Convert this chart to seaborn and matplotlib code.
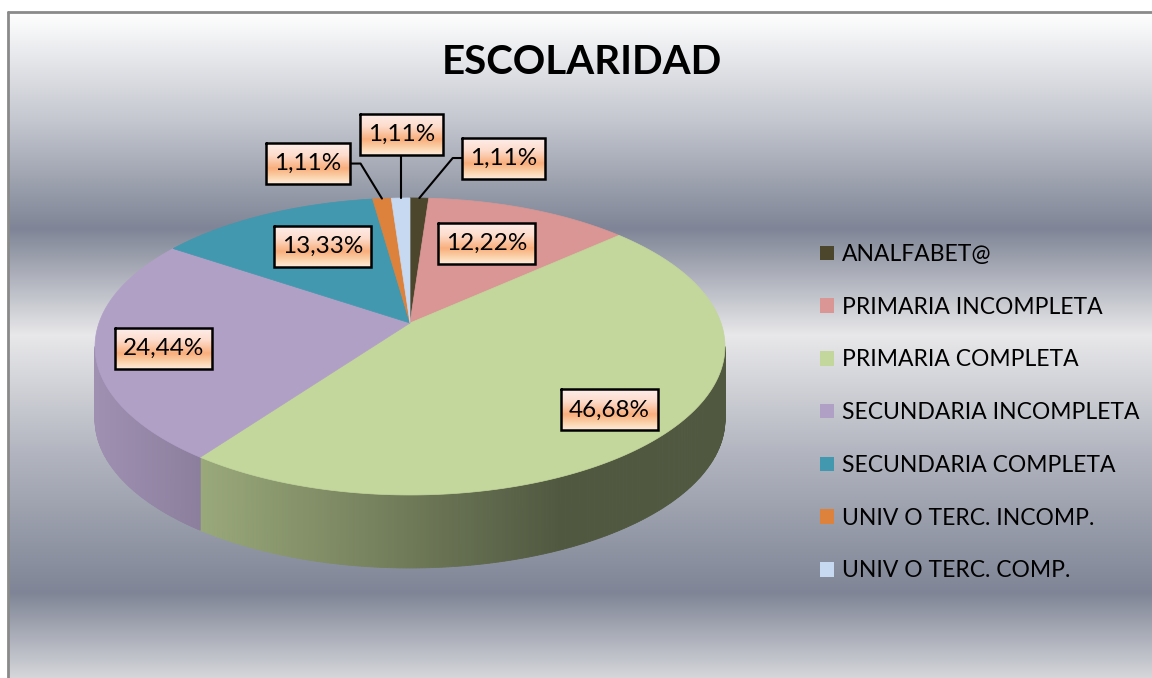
import numpy as np
import pandas as pd
import matplotlib
matplotlib.use("Agg")
import matplotlib.pyplot as plt
import seaborn as sns
from matplotlib.patches import Polygon, Patch
from matplotlib.colors import to_rgb

# --- data ---
categories = ["ANALFABET@", "PRIMARIA INCOMPLETA", "PRIMARIA COMPLETA",
              "SECUNDARIA INCOMPLETA", "SECUNDARIA COMPLETA",
              "UNIV O TERC. INCOMP.", "UNIV O TERC. COMP."]
values = [1.11, 12.22, 46.68, 24.44, 13.33, 1.11, 1.11]
colors = ["#4b462c", "#d99694", "#c3d69b", "#b1a0c6", "#4298ae", "#dc823c", "#c6d9f1"]

df = pd.DataFrame({"cat": categories, "val": values, "col": colors})
df["label"] = df["val"].map(lambda v: f"{v:.2f}%".replace(".", ","))

# --- layout of the fake 3d pie (pixels) ---
CX, CY = 410, 323
A, B, K = 311, 144.8, 0.158
DEPTH = 73

sns.set_theme(style="white")
plt.rcParams["font.family"] = ["Lato", "DejaVu Sans"]

fig = plt.figure(figsize=(11.52, 6.78), dpi=100)
ax = fig.add_axes([0, 0, 1, 1])
ax.set_zorder(1)
ax.set_xlim(0, 1152)
ax.set_ylim(678, 0)
ax.axis("off")

# background gradient (Excel style bands), pasted as raw pixels
stops = [(12, "#ffffff"), (120, "#c4c7cf"), (228, "#7f8596"), (335, "#e8e8ea"),
         (450, "#b3b6c0"), (592, "#7f8596"), (678, "#d6d7db")]
ys = np.arange(12, 678)
sp = [s[0] for s in stops]
sc = np.array([to_rgb(s[1]) for s in stops])
grad = np.stack([np.interp(ys, sp, sc[:, c]) for c in range(3)], axis=1)
grad = np.repeat(grad[:, None, :], 1152 - 8, axis=1)
fig.figimage(grad, xo=8, yo=0, origin="upper", zorder=0)
ax.plot([8, 8], [678, 12], color="#8a8a8a", lw=2, zorder=1)
ax.plot([8, 1152], [12, 12], color="#8a8a8a", lw=2, zorder=1)

ax.text(582, 62, "ESCOLARIDAD", ha="center", va="center", fontsize=29,
        fontweight="bold", color="black", zorder=5)


def proj(theta, r=1.0):
    t = np.radians(theta)
    u = r * np.sin(t)
    w = -r * np.cos(t)
    s = 1.0 / (1.0 - K * w)
    return CX + A * u * s, CY + B * w * s


total = df["val"].sum()
ends = np.cumsum(df["val"]) / total * 360
starts = np.concatenate([[0], ends[:-1]])

# side walls, only the front part shows
vis0 = np.degrees(np.arccos(-K))
vis1 = 360 - vis0
for a0, a1, col in zip(starts, ends, df["col"]):
    lo, hi = max(a0, vis0), min(a1, vis1)
    if hi <= lo:
        continue
    th = np.linspace(lo, hi, int((hi - lo) * 2) + 2)
    base = np.array(to_rgb(col))
    for t0, t1 in zip(th[:-1], th[1:]):
        x0, y0 = proj(t0)
        x1, y1 = proj(t1)
        f = np.clip(0.9 - ((x0 + x1) / 2 - 95) * 0.00105, 0.41, 1)
        c = base * f
        ax.add_patch(Polygon([(x0, y0), (x1, y1), (x1, y1 + DEPTH), (x0, y0 + DEPTH)],
                             closed=True, fc=c, ec=c, lw=0.6, zorder=2))

# top faces
for a0, a1, col in zip(starts, ends, df["col"]):
    th = np.linspace(a0, a1, max(int(a1 - a0) * 2, 4))
    pts = [(CX, CY)] + [proj(t) for t in th]
    ax.add_patch(Polygon(pts, closed=True, fc=col, ec=col, lw=0.5, zorder=3))

# data labels
box_stops = [(0.0, "#fdeeea"), (0.3, "#fddccb"), (0.62, "#f9ae7c"), (0.85, "#fcd6b0"), (1.0, "#fdeadb")]
bp = [s[0] for s in box_stops]
bc = np.array([to_rgb(s[1]) for s in box_stops])
bgy = np.linspace(0, 1, 60)
box_grad = np.stack([np.interp(bgy, bp, bc[:, c]) for c in range(3)], axis=1)[:, None, :]

fig.canvas.draw()
renderer = fig.canvas.get_renderer()


def label_box(x, y, txt):
    t = ax.text(x, y, txt, ha="center", va="center", fontsize=17.5, color="black", zorder=7)
    bb = t.get_window_extent(renderer)
    w = bb.width + 16
    h = 41
    l, r = x - w / 2, x + w / 2
    top, bot = y - h / 2, y + h / 2
    ax.imshow(box_grad, extent=(l, r, bot, top), aspect="auto", zorder=6)
    ax.plot([l, r, r, l, l], [top, top, bot, bot, top], color="black", lw=1.8,
            solid_joinstyle="miter", zorder=6.5)
    return l, r, top, bot


# offsets for the little slices (box centre relative to rim point)
small_off = {0: (84, -40), 5: (-74, -35), 6: (1, -64)}
# nudges for the labels inside the slices
big_nudge = {1: (-16, 9), 2: (11, 8), 3: (-12, 6), 4: (25, 7)}

for i, (a0, a1, txt) in enumerate(zip(starts, ends, df["label"])):
    mid = (a0 + a1) / 2
    if i in small_off:
        ax0, ay0 = proj(mid)
        dx, dy = small_off[i]
        bx, by = ax0 + dx, ay0 + dy
        l, r, top, bot = label_box(bx, by, txt)
        if abs(dx) < 10:
            ax.plot([ax0, ax0], [ay0, bot], color="black", lw=1.5, zorder=5)
        elif dx > 0:
            ax.plot([ax0, l - 9, l], [ay0, by, by], color="black", lw=1.5, zorder=5)
        else:
            ax.plot([ax0, r + 11, r], [ay0, by, by], color="black", lw=1.5, zorder=5)
    else:
        lx, ly = proj(mid, 0.75)
        nx, ny = big_nudge.get(i, (0, 0))
        label_box(lx + nx, ly + ny, txt)

# legend
handles = [Patch(fc=c, ec="none") for c in df["col"]]
ax.legend(handles, df["cat"], loc="upper left", bbox_to_anchor=(820, 244),
          bbox_transform=ax.transData, frameon=False, fontsize=16.5, labelcolor="black",
          handlelength=0.6, handleheight=0.6, handletextpad=0.35,
          labelspacing=1.385, borderaxespad=0, borderpad=0)

fig.savefig("out.png", dpi=100)
